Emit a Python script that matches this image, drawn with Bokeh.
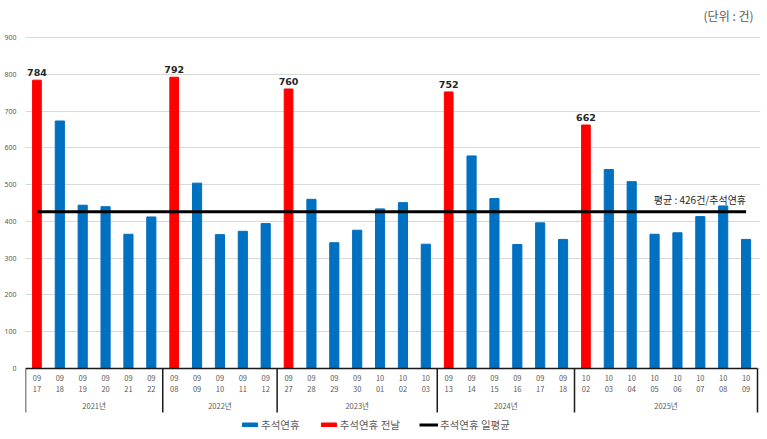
import numpy as np
from bokeh.plotting import figure
from bokeh.models import ColumnDataSource, Range1d, FixedTicker, Legend
from bokeh.core.properties import value
from bokeh.embed import file_html
from bokeh.resources import INLINE

# 연도별 추석연휴 (첫날 = 연휴 전날)
years = ["2021년", "2022년", "2023년", "2024년", "2025년"]
group_sizes = [6, 5, 7, 6, 8]
dates = ["09/17", "09/18", "09/19", "09/20", "09/21", "09/22",
         "09/08", "09/09", "09/10", "09/11", "09/12",
         "09/27", "09/28", "09/29", "09/30", "10/01", "10/02", "10/03",
         "09/13", "09/14", "09/15", "09/16", "09/17", "09/18",
         "10/02", "10/03", "10/04", "10/05", "10/06", "10/07", "10/08", "10/09"]
counts = [784, 673, 444, 440, 365, 412,
          792, 504, 364, 373, 394,
          760, 460, 342, 376, 434, 451, 338,
          752, 578, 462, 337, 396, 351,
          662, 541, 508, 365, 369, 413, 442, 351]
avg_daily = 426
y_ticks = list(range(0, 901, 100))

FONT = value("Noto Sans CJK KR")
GRAY = "#595959"

n = len(dates)
xs = np.arange(n) + 0.5
bounds = np.concatenate([[0], np.cumsum(group_sizes)])
centers = (bounds[:-1] + bounds[1:]) / 2
eve = np.zeros(n, dtype=bool)
eve[bounds[:-1]] = True
counts = np.array(counts)
months = [d.split("/")[0] for d in dates]
days = [d.split("/")[1] for d in dates]

W, H = 767, 439
left, right = 25, 7
# 픽셀 -> 데이터 단위
k = 331 / 900
y_top = 900 + 37 / k
y_bot = -(H - 368) / k
x_end = (W - left - right) / ((757 - left) / n)

p = figure(width=W, height=H, output_backend="svg", toolbar_location=None,
           x_range=Range1d(0, x_end), y_range=Range1d(y_bot, y_top),
           x_axis_location=None, min_border_left=left, min_border_right=right,
           min_border_top=0, min_border_bottom=0)
p.outline_line_color = None
p.xgrid.visible = False
p.ygrid.ticker = FixedTicker(ticks=y_ticks)
p.ygrid.grid_line_color = "#d9d9d9"
p.yaxis.ticker = FixedTicker(ticks=y_ticks)
p.yaxis.axis_line_color = None
p.yaxis.major_tick_line_color = None
p.yaxis.minor_tick_line_color = None
p.yaxis.major_label_text_font = "Noto Sans"
p.yaxis.major_label_text_font_size = "7px"
p.yaxis.major_label_text_color = GRAY
p.yaxis.major_label_standoff = 3

src_h = ColumnDataSource(dict(x=xs[~eve], y=counts[~eve]))
src_e = ColumnDataSource(dict(x=xs[eve], y=counts[eve], t=[str(v) for v in counts[eve]]))

r_blue = p.vbar(x="x", top="y", width=0.4, color="#0070C0", source=src_h)
r_red = p.vbar(x="x", top="y", width=0.38, color="#FF0000", source=src_e)
r_avg = p.line(x=[xs[0], xs[-1]], y=[avg_daily, avg_daily], line_color="black", line_width=3)

p.text(x="x", y="y", text="t", source=src_e, text_align="center", text_baseline="bottom",
       y_offset=-4, text_font=value("DejaVu Sans"), text_font_style="bold",
       text_font_size="9.5px", text_color="#262626")

p.text(x=[xs[-1]], y=[avg_daily], text=[f"평균 : {avg_daily}건/추석연휴"], text_align="right",
       text_baseline="bottom", y_offset=-5, text_font=FONT, text_font_size="10px",
       text_color="#262626")

p.text(x=[x_end], y=[y_top], text=["(단위 : 건)"], text_align="right", text_baseline="top",
       x_offset=-7, y_offset=6, text_font=FONT, text_font_size="12px", text_color=GRAY)

# x축 눈금 / 연도 구분
p.segment(x0=bounds[0], y0=0, x1=bounds[-1], y1=0, line_color="#1a1a1a", line_width=1.3)
p.segment(x0=bounds, y0=0, x1=bounds, y1=-44 / k, line_color="#1a1a1a", line_width=1.5)
p.text(x=xs, y=0, text=months, text_align="center", text_baseline="middle", y_offset=9,
       text_font=FONT, text_font_size="7.5px", text_color=GRAY)
p.text(x=xs, y=0, text=days, text_align="center", text_baseline="middle", y_offset=20,
       text_font=FONT, text_font_size="7.5px", text_color=GRAY)
p.text(x=centers, y=0, text=years, text_align="center", text_baseline="middle", y_offset=37,
       text_font=FONT, text_font_size="7.5px", text_color=GRAY)

legend = Legend(items=[("추석연휴", [r_blue]), ("추석연휴 전날", [r_red]), ("추석연휴 일평균", [r_avg])],
                orientation="horizontal", location=(215, 7))
legend.glyph_width = 19
legend.glyph_height = 5
legend.label_height = 10
legend.label_standoff = 2
legend.spacing = 19
legend.padding = 0
legend.margin = 0
legend.border_line_color = None
legend.background_fill_alpha = 0
legend.label_text_font = "Noto Sans CJK KR"
legend.label_text_font_size = "10.5px"
legend.label_text_color = GRAY
p.add_layout(legend)

open("out.html", "w").write(file_html(p, INLINE))
